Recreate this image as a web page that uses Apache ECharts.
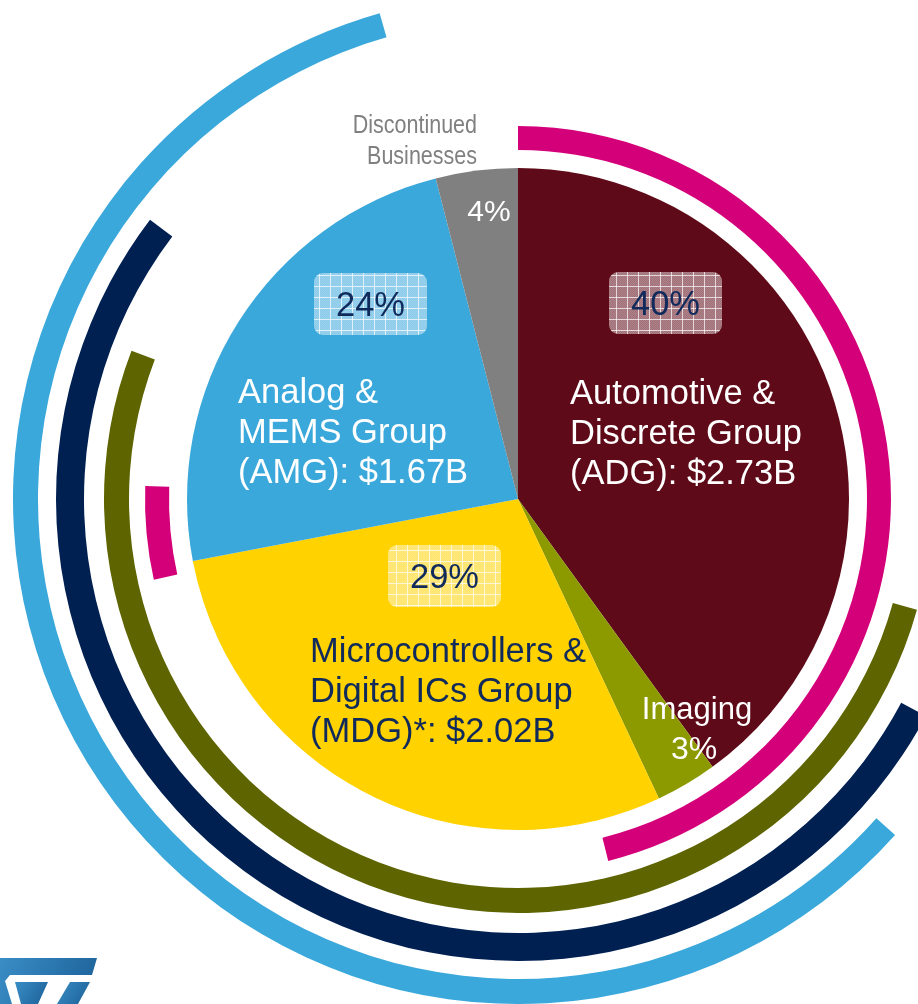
<!DOCTYPE html>
<html>
<head>
<meta charset="utf-8">
<script src="https://cdn.jsdelivr.net/npm/echarts@6/dist/echarts.min.js"></script>
<style>
  html, body { margin: 0; padding: 0; background: #fff; }
  #chart { width: 918px; height: 1004px; }
</style>
</head>
<body>
<div id="chart"></div>
<script>
// 扇区：从 12 点开始顺时针
const segments = ['ADG', 'Imaging', 'MDG', 'AMG', 'Discontinued'];
const shares = [40, 3, 29, 24, 4];
const segmentColors = ['#5E0A18', '#8C9A00', '#FFD200', '#3AA8DB', '#808080'];

// 三个主要业务组的文字
const groupTitles = ['Automotive &\nDiscrete Group', 'Microcontrollers &\nDigital ICs Group', 'Analog &\nMEMS Group'];
const groupCodes = ['(ADG)', '(MDG)*', '(AMG)'];
const groupRevenue = ['$2.73B', '$2.02B', '$1.67B'];

// 外圈弧线：起点角度（顺时针，自 12 点起）与跨度，单位度
const arcNames = ['magenta', 'magentaSmall', 'olive', 'navy', 'sky'];
const arcFrom = [0, 257.5, 105.5, 118, 131.7];
const arcSpan = [166, 14.5, 185.5, 189.2, 212.4];

const CENTER = [518, 499];
const FONT = '"Liberation Sans", Arial, sans-serif';
const NAVY_TEXT = '#102A5C';
const TOP = 100; // 文字层级，压在饼图之上

const chart = echarts.init(document.getElementById('chart'), null, { renderer: 'canvas' });

// 半透明方格底纹（百分比标签的底框）
const gridPattern = () => {
    const c = document.createElement('canvas');
    c.width = 11; c.height = 11;
    const g = c.getContext('2d');
    g.fillStyle = 'rgba(255,255,255,0.42)';
    g.fillRect(0, 0, 11, 11);
    g.fillStyle = 'rgba(255,255,255,0.12)';
    for (let y = 0; y < 11; y++) {
        for (let x = (y % 2); x < 11; x += 2) g.fillRect(x, y, 1, 1);
    }
    g.fillStyle = 'rgba(255,255,255,0.7)';
    g.fillRect(0, 0, 11, 1);
    g.fillRect(0, 0, 1, 11);
    return c;
};

const arcSeries = (i, radius, color) => ({
    type: 'pie',
    name: arcNames[i],
    silent: true,
    center: CENTER,
    radius,
    startAngle: 90 - arcFrom[i],
    clockwise: true,
    label: { show: false },
    labelLine: { show: false },
    itemStyle: { borderWidth: 0 },
    data: [
        { value: arcSpan[i], itemStyle: { color } },
        { value: 360 - arcSpan[i], itemStyle: { color: 'rgba(0,0,0,0)' } }
    ]
});

const pct = (name) => shares[segments.indexOf(name)] + '%';

const pctBox = (x, y, name) => ([
    {
        type: 'rect', z: TOP,
        shape: { x, y, width: 113, height: 62, r: 9 },
        style: { fill: { image: gridPattern(), repeat: 'repeat' } }
    },
    {
        type: 'text', z: TOP + 1,
        x: x + 56.5, y: y + 33,
        style: {
            text: pct(name), fill: NAVY_TEXT, fontSize: 34.5, fontFamily: FONT,
            textAlign: 'center', textVerticalAlign: 'middle'
        }
    }
]);

const groupText = (i, x, y, color) => ({
    type: 'text', z: TOP,
    x, y,
    style: {
        text: groupTitles[i] + '\n' + groupCodes[i] + ': ' + groupRevenue[i],
        fill: color, fontSize: 34.5, fontFamily: FONT, lineHeight: 40,
        textAlign: 'left', textVerticalAlign: 'middle'
    }
});

const plainText = (text, x, y, size, color) => ({
    type: 'text', z: TOP, x, y,
    style: {
        text, fill: color, fontSize: size, fontFamily: FONT,
        textAlign: 'center', textVerticalAlign: 'middle'
    }
});

const logoFill = {
    type: 'linear', x: 0, y: 0, x2: 1, y2: 1,
    colorStops: [{ offset: 0, color: '#3A8DC6' }, { offset: 1, color: '#1B5F96' }]
};

const option = {
    animation: false,
    backgroundColor: '#fff',
    series: [
        {
            type: 'pie',
            name: 'revenue',
            silent: true,
            center: CENTER,
            radius: [0, 331],
            startAngle: 90,
            clockwise: true,
            label: { show: false },
            labelLine: { show: false },
            itemStyle: { borderWidth: 0 },
            data: segments.map((s, i) => ({ name: s, value: shares[i], itemStyle: { color: segmentColors[i] } }))
        },
        arcSeries(0, [349, 373], '#D4007A'),
        arcSeries(1, [349, 373], '#D4007A'),
        arcSeries(2, [389, 414], '#5E6400'),
        arcSeries(3, [434, 462], '#002052'),
        arcSeries(4, [480, 505], '#3AA8DB')
    ],
    graphic: [
        ...pctBox(609, 272, 'ADG'),
        ...pctBox(314, 273, 'AMG'),
        ...pctBox(388, 545, 'MDG'),
        groupText(0, 570, 434, '#ffffff'),
        groupText(2, 238, 433, '#ffffff'),
        groupText(1, 310, 692, NAVY_TEXT),
        plainText('Imaging', 697, 710, 31, '#ffffff'),
        plainText(pct('Imaging'), 694, 750, 32, '#ffffff'),
        plainText(pct('Discontinued'), 489, 213, 30, '#ffffff'),
        {
            type: 'text', z: TOP, x: 477, y: 142, scaleX: 0.86,
            style: {
                text: 'Discontinued\nBusinesses', fill: '#808080', fontSize: 25, lineHeight: 31,
                fontFamily: FONT,
                textAlign: 'right', textVerticalAlign: 'middle'
            }
        },
        // ST 标志（左下角，只露出上半部分）
        { type: 'polygon', z: TOP, shape: { points: [[0, 958], [97, 958], [92, 975], [10, 975], [5, 981], [12, 1004], [0, 1004]] }, style: { fill: logoFill } },
        { type: 'polygon', z: TOP, shape: { points: [[15, 982], [48, 982], [38, 1004], [21, 1004]] }, style: { fill: logoFill } },
        { type: 'polygon', z: TOP, shape: { points: [[70, 982], [90, 982], [78, 1004], [57, 1004]] }, style: { fill: logoFill } }
    ]
};

chart.setOption(option);
window.addEventListener('resize', () => chart.resize());
</script>
</body>
</html>
